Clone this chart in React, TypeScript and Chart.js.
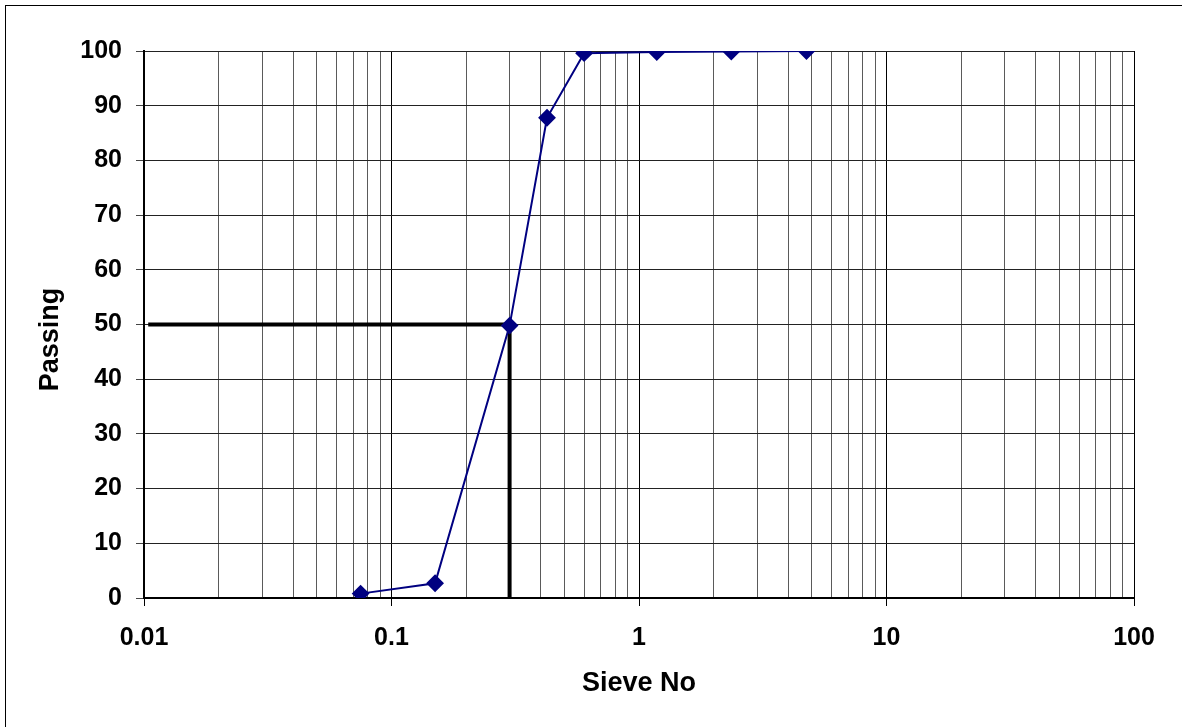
import React, { useEffect, useRef } from "react";
import { Chart, registerables } from "chart.js";

Chart.register(...registerables);

const sieveSizes = [0.075, 0.15, 0.3, 0.425, 0.6, 1.18, 2.36, 4.75];
const passing = [0.8, 2.7, 49.8, 87.8, 99.6, 99.8, 99.9, 100];

const d50LineX = [0.0104, 0.3, 0.3];
const d50LineY = [50, 50, 0];

const decades = [0.01, 0.1, 1, 10, 100];
const decadeLabels = ["0.01", "0.1", "1", "10", "100"];
const minorMultipliers = [2, 3, 4, 5, 6, 7, 8, 9];
const yTickValues = [0, 10, 20, 30, 40, 50, 60, 70, 80, 90, 100];

const xTitle = "Sieve No";
const yTitle = "Passing";

const FONT = "'Liberation Sans', Arial, Helvetica, sans-serif";
const FONT_SIZE = 25;
const TITLE_SIZE = 27;

function isDecade(v: number) {
  return decades.some((d) => Math.abs(v - d) / d < 1e-6);
}

const yTitlePlugin = {
  id: "yTitlePlugin",
  afterDraw(chart: any) {
    const { ctx, chartArea } = chart;
    ctx.save();
    ctx.translate(51, (chartArea.top + chartArea.bottom) / 2 + 15);
    ctx.rotate(-Math.PI / 2);
    ctx.font = `bold ${TITLE_SIZE}px ${FONT}`;
    ctx.fillStyle = "#000";
    ctx.textAlign = "center";
    ctx.textBaseline = "middle";
    ctx.fillText(yTitle, 0, 0);
    ctx.restore();
  },
};

export default function App() {
  const ref = useRef<HTMLCanvasElement | null>(null);

  useEffect(() => {
    if (!ref.current) return;
    const xTicks: number[] = [];
    decades.forEach((d, i) => {
      xTicks.push(d);
      if (i < decades.length - 1) minorMultipliers.forEach((m) => xTicks.push(+(d * m).toPrecision(6)));
    });

    const chart = new Chart(ref.current, {
      type: "scatter",
      plugins: [yTitlePlugin],
      data: {
        datasets: [
          {
            label: "Passing",
            data: sieveSizes.map((x, i) => ({ x, y: passing[i] })),
            showLine: true,
            borderColor: "#000080",
            backgroundColor: "#000080",
            borderWidth: 2,
            pointStyle: "rectRot",
            pointRadius: 7.5,
            pointHoverRadius: 7.5,
            order: 1,
          },
          {
            label: "D50",
            data: d50LineX.map((x, i) => ({ x, y: d50LineY[i] })),
            showLine: true,
            borderColor: "#000000",
            backgroundColor: "#000000",
            borderWidth: 4,
            pointRadius: 0,
            order: 2,
          },
        ],
      },
      options: {
        animation: false,
        responsive: false,
        devicePixelRatio: 1,
        layout: { padding: { left: 25, right: 48, top: 51, bottom: 19 } },
        plugins: {
          legend: { display: false },
          tooltip: { enabled: false },
        },
        scales: {
          x: {
            type: "logarithmic",
            min: 0.01,
            max: 100,
            afterBuildTicks: (scale: any) => {
              scale.ticks = xTicks.map((v) => ({ value: v, major: isDecade(v) }));
            },
            afterFit: (scale: any) => {
              scale.height = 110;
            },
            ticks: {
              autoSkip: false,
              maxRotation: 0,
              minRotation: 0,
              padding: 17,
              color: "#000",
              font: { family: FONT, size: FONT_SIZE, weight: "bold" },
              callback: (value: any) => {
                const idx = decades.findIndex((d) => Math.abs(value - d) / d < 1e-6);
                return idx >= 0 ? decadeLabels[idx] : "";
              },
            },
            grid: {
              color: (ctx: any) => (ctx.tick && isDecade(ctx.tick.value) ? "#000000" : "#5a5a5a"),
              tickColor: (ctx: any) => (ctx.tick && isDecade(ctx.tick.value) ? "#000000" : "rgba(0,0,0,0)"),
              tickLength: 8,
              lineWidth: 1,
            },
            border: { color: "#000", width: 2 },
            title: {
              display: true,
              text: xTitle,
              color: "#000",
              font: { family: FONT, size: TITLE_SIZE, weight: "bold" },
              padding: { top: 0, bottom: 8 },
            },
          },
          y: {
            type: "linear",
            min: 0,
            max: 100,
            afterBuildTicks: (scale: any) => {
              scale.ticks = yTickValues.map((v) => ({ value: v }));
            },
            afterFit: (scale: any) => {
              scale.width = 119;
            },
            ticks: {
              padding: 14,
              color: "#000",
              font: { family: FONT, size: FONT_SIZE, weight: "bold" },
            },
            grid: {
              color: "#222222",
              tickColor: "#444444",
              tickLength: 8,
              lineWidth: 1,
            },
            border: { color: "#000", width: 2 },
            title: { display: false },
          },
        },
      },
    });
    return () => chart.destroy();
  }, []);

  return (
    <div style={{ position: "fixed", left: 0, top: 0, width: 1182, height: 727, background: "#fff", overflow: "hidden" }}>
      <div
        style={{
          position: "absolute",
          left: 5,
          top: 5,
          width: 1300,
          height: 900,
          borderLeft: "1px solid #000",
          borderTop: "1px solid #000",
        }}
      />
      <canvas ref={ref} width={1182} height={727} style={{ position: "absolute", left: 0, top: 0, width: 1182, height: 727 }} />
    </div>
  );
}
